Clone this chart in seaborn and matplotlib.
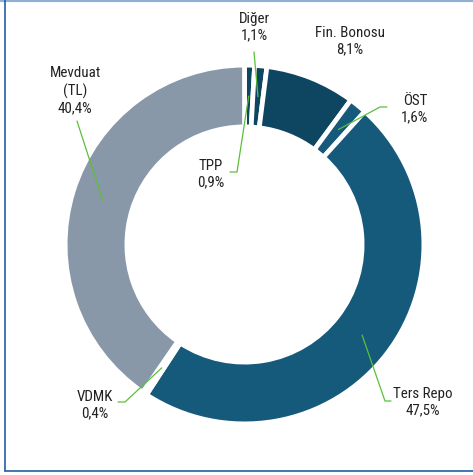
import numpy as np
import seaborn as sns
import matplotlib.pyplot as plt
from matplotlib import font_manager

# data (clockwise from 12 o'clock)
labels = ['TPP', 'Diğer', 'Fin. Bonosu', 'ÖST', 'Ters Repo', 'VDMK', 'Mevduat\n(TL)']
shares = [0.9, 1.1, 8.1, 1.6, 47.5, 0.4, 40.4]
colors = ['#0e4560', '#0e4560', '#0e4560', '#165a7b', '#165a7b', '#165a7b', '#8898a9']

W, H = 473, 475
cx, cy = 244.5, 244.5          # ring centre in image pixels
R_out, ring = 177, 57
gap = 3.4                       # white edge between wedges (points)

# label layout: text centre, connector points (image px), None = no leader
label_pos = {
    'TPP': ((211, 174), [(237, 172), (230, 172)]),
    'Diğer': ((254, 27), [(254, 52)]),
    'Fin. Bonosu': ((350, 41), None),
    'ÖST': ((415, 109), [(380, 107), (387, 107)]),
    'Ters Repo': ((423, 402), [(385, 401), (391, 401)]),
    'VDMK': ((95, 405), [(125, 402), (118, 402)]),
    'Mevduat\n(TL)': ((75, 91), [(77, 121)]),
}

sns.set_theme(style='white')
installed = {f.name for f in font_manager.fontManager.ttflist}
family = next((f for f in ['Roboto Condensed', 'Liberation Sans Narrow', 'Liberation Sans', 'Roboto']
               if f in installed), 'DejaVu Sans')
plt.rcParams['font.family'] = [family, 'DejaVu Sans']

fig = plt.figure(figsize=(W / 100, H / 100), dpi=100)
ax = fig.add_axes([0, 0, 1, 1])

def Y(y):
    return H - y

pad = gap * 100 / 72 / 2
ax.pie(shares, colors=colors, startangle=90, counterclock=False,
       radius=R_out + pad, center=(cx, Y(cy)),
       wedgeprops=dict(width=ring + 2 * pad, edgecolor='white', linewidth=gap))

# leader lines + labels
cum = np.cumsum([0] + shares)
mids = 90 - (cum[:-1] + np.array(shares) / 2) * 3.6
r_mid = R_out - ring / 2
fsize = 10.8 if 'Narrow' in family or 'Condensed' in family else 9.5
for name, val, ang in zip(labels, shares, mids):
    (tx, ty), conn = label_pos[name]
    pct = f"{val:.1f}".replace('.', ',') + '%'
    ax.text(tx, Y(ty), f"{name}\n{pct}", ha='center', va='center',
            fontsize=fsize, color='#222222', linespacing=1.25)
    if conn:
        a = np.deg2rad(ang)
        px = [cx + r_mid * np.cos(a)] + [p[0] for p in conn]
        py = [Y(cy - r_mid * np.sin(a))] + [Y(p[1]) for p in conn]
        ax.plot(px, py, color='#5cbf3c', lw=0.9)

# frame lines
ax.plot([0, W], [Y(0.6), Y(0.6)], color='#8fb0d4', lw=1.5)
ax.plot([4.5, 4.5], [Y(0), Y(471)], color='#1f5fa8', lw=1.2)
ax.plot([4.5, W], [Y(471), Y(471)], color='#1f5fa8', lw=1.2)

ax.set_xlim(0, W)
ax.set_ylim(0, H)
ax.set_aspect('equal')
ax.axis('off')

fig.savefig('out.png', dpi=100)
plt.close(fig)
